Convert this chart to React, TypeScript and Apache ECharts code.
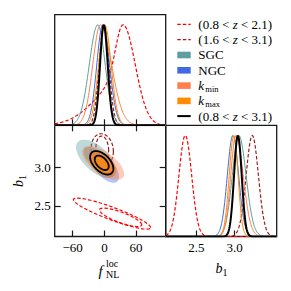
import React, { useEffect, useRef } from 'react';
import * as echarts from 'echarts';

// ---- data ----
const seriesNames = ['(0.8 < z < 2.1)', '(1.6 < z < 3.1)', 'SGC', 'NGC', 'k_min', 'k_max', '(0.8 < z < 3.1)'];

// 1D marginal of f_NL^loc: peak position, left / right widths, optional left tail
const fNLPeak = [35.3, -1, -12.5, -3, -7.5, 0.7, -1.2];
const fNLWidthLeft = [14, 9, 16, 11.3, 14.4, 11.5, 7];
const fNLWidthRight = [23, 9.5, 14, 12.8, 21, 12, 7.5];
const fNLTailWidth = [50, 0, 0, 0, 0, 0, 0];
const fNLTailWeight = [0.45, 0, 0, 0, 0, 0, 0];

// 1D marginal of b1
const b1Peak = [2.356, 3.231, 3.055, 2.978, 3.017, 2.99, 3.043];
const b1WidthLeft = [0.083, 0.08, 0.085, 0.073, 0.067, 0.06, 0.05];
const b1WidthRight = [0.083, 0.08, 0.095, 0.075, 0.095, 0.055, 0.05];

// 2D contours: [fNL centre, b1 centre, fNL half extent, b1 half extent, correlation, level(0 outer / 1 inner)]
const contourRed = [[14.5, 2.398, 73, 0.202, -0.9, 0], [30.6, 2.35, 40, 0.12, -0.8, 1]];
const contourDarkRed = [[-4, 3.23, 21, 0.21, -0.1, 0], [-4, 3.24, 12, 0.17, -0.1, 1]];
const contourSGC = [[-15.6, 3.113, 38, 0.25, -0.6, 0], [-15.6, 3.113, 23.6, 0.155, -0.6, 1]];
const contourNGC = [[1.3, 2.997, 26.5, 0.196, -0.6, 0], [1.3, 2.997, 16.4, 0.12, -0.6, 1]];
const contourKmin = [[-2.5, 3.06, 40, 0.22, -0.65, 0], [-2.5, 3.06, 24.8, 0.137, -0.65, 1]];
const contourKmax = [[-4, 3.035, 25.7, 0.17, -0.5, 0], [-4, 3.035, 16, 0.106, -0.5, 1]];
const contourAll = [[-5, 3.061, 22, 0.153, -0.5, 0], [-5, 3.061, 13.2, 0.094, -0.5, 1]];
const contours = [contourRed, contourDarkRed, contourSGC, contourNGC, contourKmin, contourKmax, contourAll];

// axes
const fNLRange = [-94, 116];
const b1Range = [2.1, 3.55];
const fNLTicks = [-60, 0, 60];
const b1Ticks = [2.5, 3.0];

// ---- styles ----
const colors = ['#ff0000', '#a01c1c', '#5f9ea0', '#4169e1', '#ff7f50', '#ff8c00', '#000000'];
const filled = [false, false, true, true, true, true, false];
const dashed = [true, true, false, false, false, false, false];
const SERIF = 'Liberation Serif';
const AXC = '#1a1a1a';

function rgba(hex: string, a: number) {
  const n = parseInt(hex.slice(1), 16);
  return `rgba(${(n >> 16) & 255},${(n >> 8) & 255},${n & 255},${a})`;
}

function shape(x: number, peak: number, wl: number, wr: number, tw: number, tt: number) {
  const d = x - peak;
  if (d >= 0) return Math.exp(-0.5 * (d / wr) ** 2);
  const main = Math.exp(-0.5 * (d / wl) ** 2);
  if (!tt) return main;
  return (1 - tt) * main + tt * Math.exp(-0.5 * (d / tw) ** 2);
}

function fCurve(i: number) {
  const out: number[][] = [];
  for (let x = fNLRange[0]; x <= fNLRange[1]; x += 1) {
    out.push([x, shape(x, fNLPeak[i], fNLWidthLeft[i], fNLWidthRight[i], fNLTailWidth[i], fNLTailWeight[i])]);
  }
  return out;
}

function bCurve(i: number) {
  const out: number[][] = [];
  for (let k = 0; k <= 290; k++) {
    const x = b1Range[0] + (k * (b1Range[1] - b1Range[0])) / 290;
    out.push([x, shape(x, b1Peak[i], b1WidthLeft[i], b1WidthRight[i], 0, 0)]);
  }
  return out;
}

const fmtF = (v: number) => (v < 0 ? '\u2212' + Math.abs(v) : String(v));
const fmtB = (v: number) => v.toFixed(1);

function axisBase() {
  return {
    axisLine: { show: false, onZero: false },
    splitLine: { show: false },
    axisTick: { show: false },
    axisLabel: { show: false },
  };
}

function tickAxis(ticks: number[], labels: boolean, fmt: (v: number) => string) {
  return {
    axisLine: { show: false, onZero: false },
    splitLine: { show: false },
    axisTick: {
      show: true,
      inside: true,
      length: 6,
      customValues: ticks,
      lineStyle: { color: AXC, width: 1.2 },
    },
    axisLabel: labels
      ? {
          show: true,
          customValues: ticks,
          formatter: fmt,
          fontFamily: SERIF,
          fontSize: 13,
          color: '#000',
          margin: 4,
        }
      : { show: false },
  };
}

function txt(x: number, y: number, text: string, size: number, italic = false, align = 'left') {
  return {
    type: 'text',
    x,
    y,
    style: {
      text,
      fontFamily: SERIF,
      fontSize: size,
      fontStyle: italic ? 'italic' : 'normal',
      fill: '#000',
      textAlign: align,
      align,
      textVerticalAlign: 'middle',
      verticalAlign: 'middle',
    },
  };
}

function zText(x: number, y: number, text: string) {
  // "(a < z < b)" with italic z
  const parts = text.split('z');
  return {
    type: 'text',
    x,
    y,
    style: {
      text: `{n|${parts[0]}}{i|z}{n|${parts[1]}}`,
      rich: {
        n: { fontFamily: SERIF, fontSize: 13, color: '#000' },
        i: { fontFamily: SERIF, fontSize: 13, fontStyle: 'italic', color: '#000' },
      },
      textVerticalAlign: 'middle',
      verticalAlign: 'middle',
    },
  };
}

function buildOption() {
  const grids = [
    { left: 54.7, top: 14.7, width: 111, height: 110.6 },
    { left: 54.7, top: 125.3, width: 111, height: 111.2 },
    { left: 165.7, top: 125.3, width: 111, height: 111.2 },
  ].map((g) => ({ ...g, show: true, borderColor: AXC, borderWidth: 1.3, backgroundColor: 'transparent', containLabel: false, outerBoundsMode: 'none' }));

  const xAxis = [
    { gridIndex: 0, type: 'value', min: fNLRange[0], max: fNLRange[1], position: 'bottom', ...tickAxis(fNLTicks, false, fmtF) },
    { gridIndex: 1, type: 'value', min: fNLRange[0], max: fNLRange[1], position: 'bottom', ...tickAxis(fNLTicks, true, fmtF) },
    { gridIndex: 1, type: 'value', min: fNLRange[0], max: fNLRange[1], position: 'top', ...tickAxis(fNLTicks, false, fmtF) },
    { gridIndex: 2, type: 'value', min: b1Range[0], max: b1Range[1], position: 'bottom', ...tickAxis(b1Ticks, true, fmtB) },
  ];
  const yAxis = [
    { gridIndex: 0, type: 'value', min: 0, max: 1.1, ...axisBase() },
    {
      gridIndex: 1, type: 'value', min: b1Range[0], max: b1Range[1], position: 'left', ...tickAxis(b1Ticks, true, fmtB),
      name: '{b|b}{s|1}',
      nameLocation: 'middle',
      nameRotate: 90,
      nameGap: 27,
      nameTextStyle: {
        rich: {
          b: { fontFamily: SERIF, fontSize: 14, fontStyle: 'italic', color: '#000' },
          s: { fontFamily: SERIF, fontSize: 10, color: '#000', padding: [8, 0, 0, 0] },
        },
      },
    },
    { gridIndex: 1, type: 'value', min: b1Range[0], max: b1Range[1], position: 'right', ...tickAxis(b1Ticks, false, fmtB) },
    { gridIndex: 2, type: 'value', min: 0, max: 1.1, ...axisBase() },
  ];

  const series: any[] = [];
  seriesNames.forEach((name, i) => {
    const lw = i === 6 ? 2 : dashed[i] ? 1.2 : 1;
    const lt = dashed[i] ? [3.5, 2] : 'solid';
    series.push({
      name, type: 'line', xAxisIndex: 0, yAxisIndex: 0, data: fCurve(i), showSymbol: false, symbol: 'none',
      lineStyle: { color: colors[i], width: lw, type: lt }, silent: true,
    });
    series.push({
      name, type: 'line', xAxisIndex: 3, yAxisIndex: 3, data: bCurve(i), showSymbol: false, symbol: 'none',
      lineStyle: { color: colors[i], width: lw, type: lt }, silent: true,
    });
  });
  seriesNames.forEach((name, i) => {
    series.push({
      name, type: 'custom', xAxisIndex: 1, yAxisIndex: 1, coordinateSystem: 'cartesian2d', clip: true, silent: true,
      data: contours[i],
      renderItem: (_p: any, api: any) => {
        const cf = api.value(0), cb = api.value(1), rf = api.value(2), rb = api.value(3), rho = api.value(4), lvl = api.value(5);
        const s = Math.sqrt(1 - rho * rho);
        const pts: number[][] = [];
        for (let k = 0; k <= 96; k++) {
          const t = (k / 96) * Math.PI * 2;
          pts.push(api.coord([cf + rf * Math.cos(t), cb + rb * (rho * Math.cos(t) + s * Math.sin(t))]));
        }
        const style: any = filled[i]
          ? { fill: rgba(colors[i], lvl === 0 ? 0.4 : 0.6), stroke: 'none' }
          : { fill: 'none', stroke: colors[i], lineWidth: dashed[i] ? 1.2 : 1.8, lineDash: dashed[i] ? [3.5, 2] : null };
        return { type: 'polygon', shape: { points: pts }, style };
      },
    });
  });

  // legend + axis titles
  const graphic: any[] = [];
  const rowY = (i: number) => 24.3 + 15.3 * i;
  seriesNames.forEach((name, i) => {
    const y = rowY(i);
    if (filled[i]) {
      graphic.push({ type: 'rect', shape: { x: 177.3, y: y - 3.2, width: 13.4, height: 6.6 }, style: { fill: colors[i] } });
    } else {
      graphic.push({
        type: 'line', shape: { x1: 177.3, y1: y, x2: 190.7, y2: y },
        style: { stroke: colors[i], lineWidth: i === 6 ? 2 : 1.2, lineDash: dashed[i] ? [3.5, 2] : null },
      });
    }
    if (name.startsWith('(')) {
      graphic.push(zText(198.3, y, name));
    } else if (name.startsWith('k_')) {
      graphic.push(txt(198.3, y, 'k', 13, true));
      graphic.push(txt(205.3, y + 3.3, name.slice(2), 8.5));
    } else {
      graphic.push(txt(198.3, y, name, 13));
    }
  });
  // x titles
  graphic.push(txt(98.5, 270.5, 'f', 15, true));
  graphic.push(txt(106, 263.6, 'loc', 10));
  graphic.push(txt(106, 274.3, 'NL', 10));
  graphic.push(txt(215.5, 268.5, 'b', 14, true));
  graphic.push(txt(222.6, 272.6, '1', 10));

  return { animation: false, grid: grids, xAxis, yAxis, series, graphic };
}

export default function App() {
  const ref = useRef<HTMLDivElement>(null);
  useEffect(() => {
    if (!ref.current) return;
    const chart = echarts.init(ref.current, undefined, { renderer: 'svg' });
    chart.setOption(buildOption() as any);
    return () => chart.dispose();
  }, []);
  return <div ref={ref} style={{ position: 'absolute', left: 0, top: 0, width: 291, height: 291, background: '#fff' }} />;
}
